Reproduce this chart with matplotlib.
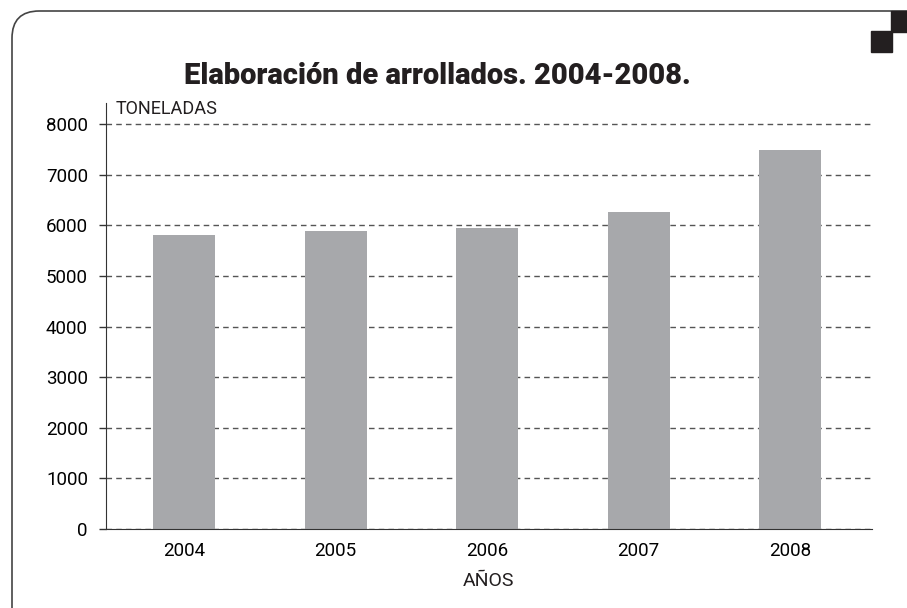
import matplotlib
matplotlib.use("Agg")
import matplotlib.pyplot as plt
from matplotlib.patches import FancyBboxPatch, Rectangle
from matplotlib import font_manager

# datos
anios = ['2004', '2005', '2006', '2007', '2008']
toneladas = [5805, 5885, 5945, 6260, 7485]
y_ticks = [0, 1000, 2000, 3000, 4000, 5000, 6000, 7000, 8000]

nombres = {f.name for f in font_manager.fontManager.ttflist}
fuente = 'Liberation Sans Narrow' if 'Liberation Sans Narrow' in nombres else 'Roboto'
plt.rcParams['font.family'] = [fuente, 'DejaVu Sans']

W, H = 907, 608
fig = plt.figure(figsize=(W / 100, H / 100), dpi=100)

# marco redondeado (solo izquierda y arriba visibles)
marco = FancyBboxPatch((12 / W, -40 / H), 1.2, (H - 11 + 40) / H,
                       boxstyle="round,pad=0,rounding_size=0.03",
                       transform=fig.transFigure, fill=False,
                       edgecolor='#444444', linewidth=1.2, mutation_aspect=W / H)
fig.patches.append(marco)

# cuadrados negros en la esquina
fig.patches.append(Rectangle((891 / W, 1 - 32 / H), 16 / W, 21 / H,
                             transform=fig.transFigure, color='#231f20'))
fig.patches.append(Rectangle((871 / W, 1 - 52 / H), 21 / W, 21 / H,
                             transform=fig.transFigure, color='#231f20'))

ax = fig.add_axes([106 / W, 79 / H, (872 - 106) / W, (529 - 103) / H])
x = range(len(anios))
ax.bar(x, toneladas, width=0.41, color='#a7a8ab', zorder=2)

ax.set_xlim(-0.515, 4.54)
ax.set_ylim(0, 8420)
ax.set_xticks(list(x))
ax.set_xticklabels(anios, fontsize=13.5)
ax.set_yticks(y_ticks)
ax.set_yticklabels([str(v) for v in y_ticks], fontsize=13.5)
ax.tick_params(axis='x', length=0, pad=9)
ax.tick_params(axis='y', length=5, width=1, color='#333333', pad=8)

ax.grid(axis='y', linestyle=(0, (4, 3)), color='#555555', linewidth=1, zorder=1)
for lado in ['top', 'right']:
    ax.spines[lado].set_visible(False)
ax.spines['left'].set_color('#333333')
ax.spines['bottom'].set_color('#333333')

ax.text(0.012, 8120, 'TONELADAS', fontsize=13, ha='left', va='bottom',
        transform=ax.get_yaxis_transform(), color='#231f20')
ax.set_xlabel('AÑOS', fontsize=14, labelpad=9, color='#231f20')

fig.text(437 / W, 1 - 76 / H, 'Elaboración de arrollados. 2004-2008.',
         fontsize=21, fontweight='heavy', ha='center', va='center', color='#231f20')

fig.savefig('out.png', dpi=100)
